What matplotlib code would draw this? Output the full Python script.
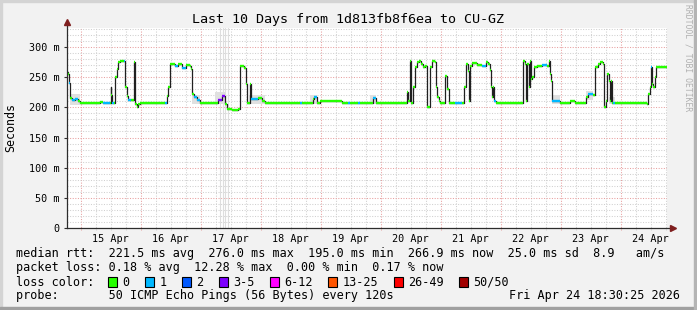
import datetime as dt
import matplotlib.pyplot as plt
from matplotlib.collections import LineCollection
from matplotlib.patches import Rectangle

plt.rcParams['font.family'] = ['DejaVu Sans Mono']

# time axis: 10 days ending Fri Apr 24 18:30
start_time = dt.datetime(2026, 4, 14, 18, 30)
span_hours = 240

# median rtt (hours since start, ms) and loss class (0 = no loss, 1 = 1 ping, 3 = 3-5)
hours = [0.0, 0.4, 0.8, 1.2, 2.0, 3.2, 4.4, 5.2, 7.2, 11.2,
         13.2, 14.4, 16.4, 17.2, 17.4, 17.6, 18.0, 18.8, 19.2, 19.9,
         20.4, 21.2, 22.8, 23.2, 23.9, 24.4, 25.6, 26.8, 27.2, 27.9,
         28.4, 29.2, 39.2, 39.9, 40.4, 41.2, 43.2, 44.4, 46.0, 47.6,
         49.2, 49.6, 49.9, 50.8, 52.0, 53.2, 59.2, 60.4, 62.0, 63.2,
         64.0, 66.0, 68.4, 69.2, 70.8, 71.5, 72.0, 72.8, 73.2, 73.6,
         75.2, 76.4, 78.0, 79.2, 93.2, 94.0, 97.2, 98.4, 98.8, 100.0,
         101.2, 109.2, 110.0, 112.4, 113.2, 116.4, 117.2, 121.2, 122.4, 123.6,
         135.6, 135.9, 136.4, 137.2, 137.6, 138.4, 139.2, 140.0, 140.8, 141.6,
         142.4, 143.2, 143.8, 144.0, 145.0, 145.2, 146.0, 147.2, 147.6, 148.0,
         148.8, 149.2, 151.2, 152.0, 152.8, 153.6, 155.2, 158.0, 158.8, 159.6,
         160.4, 160.8, 161.2, 162.0, 164.0, 166.0, 167.6, 168.4, 169.2, 169.6,
         170.0, 170.4, 170.8, 171.6, 182.0, 182.4, 183.2, 183.6, 184.0, 184.8,
         185.2, 185.6, 186.0, 186.8, 188.0, 190.0, 192.0, 192.8, 193.2, 193.6,
         194.0, 197.2, 201.2, 203.2, 207.6, 208.4, 210.4, 211.2, 212.4, 213.2,
         214.4, 214.8, 215.6, 216.0, 216.8, 217.2, 217.6, 218.0, 218.4, 219.2,
         231.6, 232.0, 232.4, 233.2, 233.6, 234.0, 234.4, 235.2, 235.6, 240.0]
rtt_ms = [258, 255, 240, 215, 212, 213, 210, 208, 207, 207,
          209, 208, 207, 207, 233, 220, 207, 208, 250, 263,
          275, 277, 276, 233, 218, 212, 212, 275, 205, 200,
          205, 207, 207, 218, 233, 272, 268, 272, 266, 270,
          268, 263, 222, 217, 212, 207, 207, 212, 218, 205,
          198, 196, 197, 268, 266, 238, 208, 208, 238, 213,
          213, 215, 210, 207, 207, 207, 207, 213, 217, 208,
          210, 210, 207, 207, 207, 207, 207, 207, 215, 207,
          207, 225, 210, 277, 207, 233, 267, 275, 277, 272,
          267, 268, 258, 200, 200, 267, 277, 275, 233, 217,
          210, 207, 252, 230, 208, 207, 207, 207, 233, 272,
          260, 210, 268, 273, 270, 268, 275, 272, 262, 233,
          217, 233, 210, 207, 207, 277, 272, 210, 272, 233,
          277, 247, 250, 267, 268, 270, 268, 277, 255, 243,
          210, 207, 210, 207, 217, 222, 220, 267, 272, 275,
          272, 200, 210, 255, 243, 210, 243, 208, 207, 207,
          207, 205, 222, 233, 267, 238, 233, 250, 267, 267]
loss_class = [0, 0, 1, 0, 1, 1, 0, 0, 0, 0,
              0, 1, 1, 0, 0, 0, 1, 0, 0, 0,
              0, 0, 1, 0, 0, 1, 0, 0, 0, 0,
              0, 0, 1, 0, 0, 0, 1, 0, 1, 0,
              0, 0, 0, 1, 1, 0, 0, 3, 3, 0,
              0, 0, 0, 0, 0, 0, 0, 0, 0, 1,
              1, 0, 0, 0, 1, 0, 0, 0, 1, 0,
              0, 0, 0, 1, 0, 1, 0, 0, 1, 0,
              0, 0, 0, 0, 0, 0, 0, 0, 0, 0,
              0, 0, 0, 0, 1, 0, 0, 0, 0, 0,
              0, 0, 0, 0, 0, 0, 1, 0, 0, 0,
              0, 0, 0, 0, 0, 1, 0, 0, 0, 0,
              0, 0, 1, 0, 0, 0, 0, 0, 0, 0,
              0, 0, 0, 0, 0, 1, 0, 0, 0, 0,
              1, 0, 0, 0, 0, 1, 0, 0, 0, 0,
              0, 0, 0, 0, 0, 0, 0, 0, 1, 0,
              0, 0, 0, 0, 1, 0, 0, 0, 0, 1]

# smoke: (start h, end h, low ms, high ms)
smoke_spans = [(1.2, 5.2, 204, 222), (49.9, 53.2, 206, 220), (59.2, 63.2, 205, 225),
               (72.8, 79.2, 206, 220), (97.2, 100.0, 205, 221), (121.2, 123.6, 205, 220),
               (194.0, 197.2, 205, 220), (207.6, 210.4, 212, 227), (216.8, 219.2, 205, 217)]
smoke_spikes = [61.2, 62.3, 63.3, 64.4]

day_labels = ['15 Apr', '16 Apr', '17 Apr', '18 Apr', '19 Apr',
              '20 Apr', '21 Apr', '22 Apr', '23 Apr', '24 Apr']
y_ticks = [0, 50, 100, 150, 200, 250, 300]
y_labels = ['0', '50 m', '100 m', '150 m', '200 m', '250 m', '300 m']

loss_colors = {0: '#26ff00', 1: '#00b8ff', 2: '#0059ff', 3: '#7e00ff'}
loss_legend = [('0', '#26ff00'), ('1', '#00b8ff'), ('2', '#0059ff'), ('3-5', '#7e00ff'),
               ('6-12', '#ff00ff'), ('13-25', '#ff5500'), ('26-49', '#ff0000'), ('50/50', '#a10000')]

rtt_line = 'median rtt:  221.5 ms avg  276.0 ms max  195.0 ms min  266.9 ms now  25.0 ms sd  8.9   am/s'
loss_line = 'packet loss: 0.18 % avg  12.28 % max  0.00 % min  0.17 % now'
probe_line = 'probe:       50 ICMP Echo Pings (56 Bytes) every 120s'
stamp = 'Fri Apr 24 18:30:25 2026'

W, H = 697, 310
fig = plt.figure(figsize=(W / 100, H / 100), dpi=100, facecolor='#f2f2f2')

# 3d frame
fig.patches.append(Rectangle((0, 1 - 2 / H), 1, 2 / H, transform=fig.transFigure, color='#d4d4d4', zorder=0))
fig.patches.append(Rectangle((0, 0), 2 / W, 1, transform=fig.transFigure, color='#d4d4d4', zorder=0))
fig.patches.append(Rectangle((0, 0), 1, 3 / H, transform=fig.transFigure, color='#a0a0a0', zorder=0))
fig.patches.append(Rectangle((1 - 3 / W, 0), 3 / W, 1, transform=fig.transFigure, color='#b4b4b4', zorder=0))

ax = fig.add_axes([67 / W, (H - 228) / H, 600 / W, 200 / H])
ax.set_facecolor('white')
ymax = 331.5
ax.set_xlim(0, span_hours)
ax.set_ylim(0, ymax)

# grid
first_midnight = (dt.datetime(2026, 4, 15) - start_time).total_seconds() / 3600
h = first_midnight
k = 0
while h < span_hours:
    if k % 4 == 0:
        ax.axvline(h, ymin=-0.012, color='#e8a0a0', lw=0.75, ls=(0, (1, 1.5)), zorder=1, clip_on=False)
    else:
        ax.axvline(h, ymin=-0.008, color='#d0d0d0', lw=0.75, ls=(0, (1, 1.5)), zorder=1, clip_on=False)
    h += 6
    k += 1
for v in range(10, 331, 10):
    if v % 50 == 0:
        ax.axhline(v, color='#e8a0a0', lw=0.75, ls=(0, (1, 1.5)), zorder=1)
    else:
        ax.axhline(v, color='#d0d0d0', lw=0.75, ls=(0, (1, 1.5)), zorder=1)

# smoke
for h0, h1, lo, hi in smoke_spans:
    ax.fill_between([h0, h1], lo, hi, color='#e0e0e0', lw=0, zorder=2)
for hs in smoke_spikes:
    ax.axvline(hs, color='#dedede', lw=0.8, zorder=2)

# median: thin black step line, loss-coloured horizontal pieces on top
ax.step(hours, rtt_ms, where='post', color='#202020', lw=0.9, zorder=3)
segs = []
cols = []
for i in range(len(hours) - 1):
    segs.append([(hours[i], rtt_ms[i]), (hours[i + 1], rtt_ms[i])])
    cols.append(loss_colors[loss_class[i]])
ax.add_collection(LineCollection(segs, colors=cols, linewidths=1.7, zorder=4, capstyle='butt'))

# axes
for s in ax.spines.values():
    s.set_visible(False)
axis_col = '#2c2c2c'
ax.plot([0, 0], [0, 1.02], transform=ax.transAxes, color=axis_col, lw=0.9, clip_on=False, zorder=5)
ax.plot([0, 1.008], [0, 0], transform=ax.transAxes, color=axis_col, lw=0.9, clip_on=False, zorder=5)
ax.plot([0], [1.03], marker='^', ms=4.5, color='#7f1f1f', transform=ax.transAxes, clip_on=False, zorder=6)
ax.plot([1.01], [0], marker='>', ms=4.5, color='#7f1f1f', transform=ax.transAxes, clip_on=False, zorder=6)

noon = [first_midnight + 12 + 24 * i for i in range(len(day_labels))]
ax.set_xticks(noon, day_labels)
ax.tick_params(axis='x', length=0, pad=4, labelsize=7.3)
ax.set_yticks(y_ticks, y_labels)
ax.tick_params(axis='y', length=2.5, width=0.8, color=axis_col, pad=3, labelsize=7.3)

fig.text(348.5 / W, 1 - 20 / H, 'Last 10 Days from 1d813fb8f6ea to CU-GZ', ha='center', va='center', fontsize=9.6)
fig.text(11 / W, 1 - 128 / H, 'Seconds', rotation=90, ha='center', va='center', fontsize=8.4)
fig.text(688 / W, 1 - 58 / H, 'RRDTOOL / TOBI OETIKER', rotation=270, ha='center', va='center',
         fontsize=5.8, color='#b0b0b0')

# legend rows
cw = 7.1
x0 = 16
fig.text(x0 / W, 1 - 254 / H, rtt_line, ha='left', va='center', fontsize=8.5)
fig.text(x0 / W, 1 - 268 / H, loss_line, ha='left', va='center', fontsize=8.5)
fig.text(x0 / W, 1 - 282 / H, 'loss color:', ha='left', va='center', fontsize=8.5)
n = 13
for lab, col in loss_legend:
    bx = x0 + cw * n
    fig.patches.append(Rectangle((bx / W, 1 - 287 / H), 9 / W, 10 / H, transform=fig.transFigure,
                                 facecolor=col, edgecolor='black', lw=0.8))
    fig.text((bx + 2 * cw) / W, 1 - 282 / H, lab, ha='left', va='center', fontsize=8.5)
    n += 2 + len(lab) + 2.2
fig.text(x0 / W, 1 - 296 / H, probe_line, ha='left', va='center', fontsize=8.5)
fig.text(680 / W, 1 - 296 / H, stamp, ha='right', va='center', fontsize=8.5)

fig.savefig('out.png', dpi=100, facecolor=fig.get_facecolor())
